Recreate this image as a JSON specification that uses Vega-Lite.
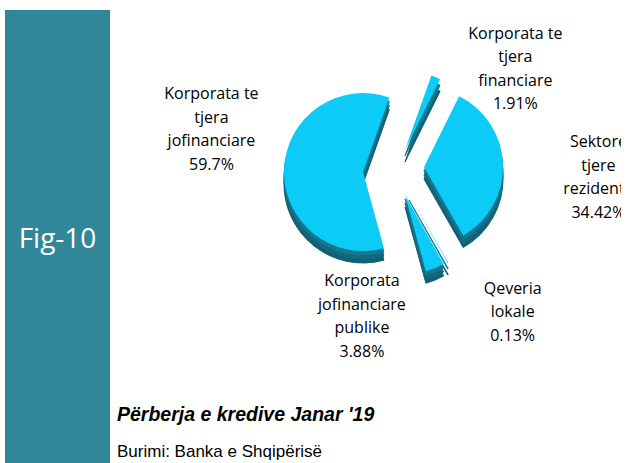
{
  "$schema": "https://vega.github.io/schema/vega-lite/v6.json",
  "padding": {"left": 5, "top": 10, "right": 0, "bottom": 0},
  "background": "white",
  "spacing": 7,
  "datasets": {
    "panel": [{"fig": "Fig-10"}],
    "slices": [
      {"name": "Korporata te tjera financiare", "label": "Korporata te\ntjera\nfinanciare\n1.91%", "value": 1.91, "rank": 1},
      {"name": "Sektore tjere rezidente", "label": "Sektore\ntjere\nrezidente\n34.42%", "value": 34.42, "rank": 2},
      {"name": "Qeveria lokale", "label": "Qeveria\nlokale\n0.13%", "value": 0.13, "rank": 3},
      {"name": "Korporata jofinanciare publike", "label": "Korporata\njofinanciare\npublike\n3.88%", "value": 3.88, "rank": 4},
      {"name": "Korporata te tjera jofinanciare", "label": "Korporata te\ntjera\njofinanciare\n59.7%", "value": 59.7, "rank": 5}
    ]
  },
  "hconcat": [
    {
      "width": 105,
      "height": 453,
      "view": {"fill": "#31879A", "stroke": null},
      "data": {"name": "panel"},
      "mark": {"type": "text", "font": "Open Sans", "fontSize": 28, "color": "white", "align": "center", "baseline": "middle", "dy": 3},
      "encoding": {"text": {"field": "fig", "type": "nominal"}}
    },
    {
      "width": 456,
      "height": 320,
      "view": {"stroke": null},
      "data": {"name": "slices"},
      "transform": [{"stack": "value", "groupby": [], "sort": [{"field": "rank", "order": "ascending"}], "as": ["v0", "v1"]}],
      "title": {
        "text": "Përberja e kredive Janar '19",
        "subtitle": "Burimi: Banka e Shqipërisë",
        "orient": "bottom",
        "anchor": "start",
        "frame": "group",
        "dx": -48,
        "offset": 46,
        "font": "Liberation Sans",
        "fontSize": 19.5,
        "fontWeight": "bold",
        "fontStyle": "italic",
        "color": "black",
        "subtitleFont": "Liberation Sans",
        "subtitleFontSize": 17,
        "subtitleColor": "black",
        "subtitlePadding": 19
      },
      "layer": [
        {"transform": [{"filter": "datum.rank == 5"}], "mark": {"type": "arc", "outerRadius": 79, "xOffset": -30, "yOffset": 14, "fill": "#0F5F76", "stroke": "#0F5F76", "strokeWidth": 1}, "encoding": {"theta": {"field": "v0", "type": "quantitative", "scale": {"domain": [0, 100.04], "range": [0.3403, 6.6235]}}, "theta2": {"field": "v1"}}},
        {"transform": [{"filter": "datum.rank == 5"}], "mark": {"type": "arc", "outerRadius": 79, "xOffset": -30, "yOffset": 10, "fill": "#12697F", "stroke": "#12697F", "strokeWidth": 1}, "encoding": {"theta": {"field": "v0", "type": "quantitative"}, "theta2": {"field": "v1"}}},
        {"transform": [{"filter": "datum.rank == 5"}], "mark": {"type": "arc", "outerRadius": 79, "xOffset": -30, "yOffset": 6, "fill": "#167790", "stroke": "#167790", "strokeWidth": 1}, "encoding": {"theta": {"field": "v0", "type": "quantitative"}, "theta2": {"field": "v1"}}},
        {"transform": [{"filter": "datum.rank == 1"}], "mark": {"type": "arc", "outerRadius": 79, "xOffset": 12, "yOffset": -8, "fill": "#0F5F76", "stroke": "#0F5F76", "strokeWidth": 1}, "encoding": {"theta": {"field": "v0", "type": "quantitative"}, "theta2": {"field": "v1"}}},
        {"transform": [{"filter": "datum.rank == 1"}], "mark": {"type": "arc", "outerRadius": 79, "xOffset": 12, "yOffset": -14, "fill": "#167790", "stroke": "#167790", "strokeWidth": 1}, "encoding": {"theta": {"field": "v0", "type": "quantitative"}, "theta2": {"field": "v1"}}},
        {"transform": [{"filter": "datum.rank == 2"}], "mark": {"type": "arc", "outerRadius": 79, "xOffset": 31, "yOffset": 9, "fill": "#0F5F76", "stroke": "#0F5F76", "strokeWidth": 1}, "encoding": {"theta": {"field": "v0", "type": "quantitative"}, "theta2": {"field": "v1"}}},
        {"transform": [{"filter": "datum.rank == 2"}], "mark": {"type": "arc", "outerRadius": 79, "xOffset": 31, "yOffset": 5, "fill": "#12697F", "stroke": "#12697F", "strokeWidth": 1}, "encoding": {"theta": {"field": "v0", "type": "quantitative"}, "theta2": {"field": "v1"}}},
        {"transform": [{"filter": "datum.rank == 2"}], "mark": {"type": "arc", "outerRadius": 79, "xOffset": 31, "yOffset": 1, "fill": "#167790", "stroke": "#167790", "strokeWidth": 1}, "encoding": {"theta": {"field": "v0", "type": "quantitative"}, "theta2": {"field": "v1"}}},
        {"transform": [{"filter": "datum.rank == 3"}], "mark": {"type": "arc", "outerRadius": 79, "xOffset": 16, "yOffset": 36, "fill": "#0F5F76", "stroke": "#0F5F76", "strokeWidth": 1}, "encoding": {"theta": {"field": "v0", "type": "quantitative"}, "theta2": {"field": "v1"}}},
        {"transform": [{"filter": "datum.rank == 3"}], "mark": {"type": "arc", "outerRadius": 79, "xOffset": 16, "yOffset": 30, "fill": "#167790", "stroke": "#167790", "strokeWidth": 1}, "encoding": {"theta": {"field": "v0", "type": "quantitative"}, "theta2": {"field": "v1"}}},
        {"transform": [{"filter": "datum.rank == 4"}], "mark": {"type": "arc", "outerRadius": 79, "xOffset": 12, "yOffset": 37, "fill": "#0F5F76", "stroke": "#0F5F76", "strokeWidth": 1}, "encoding": {"theta": {"field": "v0", "type": "quantitative"}, "theta2": {"field": "v1"}}},
        {"transform": [{"filter": "datum.rank == 4"}], "mark": {"type": "arc", "outerRadius": 79, "xOffset": 12, "yOffset": 33, "fill": "#12697F", "stroke": "#12697F", "strokeWidth": 1}, "encoding": {"theta": {"field": "v0", "type": "quantitative"}, "theta2": {"field": "v1"}}},
        {"transform": [{"filter": "datum.rank == 4"}], "mark": {"type": "arc", "outerRadius": 79, "xOffset": 12, "yOffset": 29, "fill": "#167790", "stroke": "#167790", "strokeWidth": 1}, "encoding": {"theta": {"field": "v0", "type": "quantitative"}, "theta2": {"field": "v1"}}},
        {"transform": [{"filter": "datum.rank == 5"}], "mark": {"type": "arc", "outerRadius": 79, "xOffset": -30, "yOffset": 2, "fill": "#0DCBF7"}, "encoding": {"theta": {"field": "v0", "type": "quantitative"}, "theta2": {"field": "v1"}}},
        {"transform": [{"filter": "datum.rank == 1"}], "mark": {"type": "arc", "outerRadius": 79, "xOffset": 12, "yOffset": -20, "fill": "#0DCBF7"}, "encoding": {"theta": {"field": "v0", "type": "quantitative"}, "theta2": {"field": "v1"}}},
        {"transform": [{"filter": "datum.rank == 2"}], "mark": {"type": "arc", "outerRadius": 79, "xOffset": 31, "yOffset": -3, "fill": "#0DCBF7"}, "encoding": {"theta": {"field": "v0", "type": "quantitative"}, "theta2": {"field": "v1"}}},
        {"transform": [{"filter": "datum.rank == 3"}], "mark": {"type": "arc", "outerRadius": 79, "xOffset": 16, "yOffset": 24, "fill": "#0DCBF7"}, "encoding": {"theta": {"field": "v0", "type": "quantitative"}, "theta2": {"field": "v1"}}},
        {"transform": [{"filter": "datum.rank == 4"}], "mark": {"type": "arc", "outerRadius": 79, "xOffset": 12, "yOffset": 25, "fill": "#0DCBF7"}, "encoding": {"theta": {"field": "v0", "type": "quantitative"}, "theta2": {"field": "v1"}}},
        {
          "transform": [{"filter": "datum.rank == 5"}],
          "mark": {"type": "text", "radius": 100, "dx": -208, "dy": -172, "lineBreak": "\n", "font": "Open Sans", "fontSize": 16, "lineHeight": 23.5, "align": "center", "baseline": "middle", "color": "black"},
          "encoding": {"theta": {"field": "v0", "type": "quantitative"}, "text": {"field": "label", "type": "nominal"}}
        },
        {
          "transform": [{"filter": "datum.rank == 1"}],
          "mark": {"type": "text", "radius": 100, "dx": 89, "dy": -42, "lineBreak": "\n", "font": "Open Sans", "fontSize": 16, "lineHeight": 23.5, "align": "center", "baseline": "middle", "color": "black"},
          "encoding": {"theta": {"field": "v0", "type": "quantitative"}, "text": {"field": "label", "type": "nominal"}}
        },
        {
          "transform": [{"filter": "datum.rank == 2"}],
          "mark": {"type": "text", "radius": 100, "dx": 161, "dy": 62, "lineBreak": "\n", "font": "Open Sans", "fontSize": 16, "lineHeight": 23.5, "align": "center", "baseline": "middle", "color": "black", "clip": true},
          "encoding": {"theta": {"field": "v0", "type": "quantitative"}, "text": {"field": "label", "type": "nominal"}}
        },
        {
          "transform": [{"filter": "datum.rank == 3"}],
          "mark": {"type": "text", "radius": 100, "dx": 70, "dy": 32, "lineBreak": "\n", "font": "Open Sans", "fontSize": 16, "lineHeight": 23.5, "align": "center", "baseline": "middle", "color": "black"},
          "encoding": {"theta": {"field": "v0", "type": "quantitative"}, "text": {"field": "label", "type": "nominal"}}
        },
        {
          "transform": [{"filter": "datum.rank == 4"}],
          "mark": {"type": "text", "radius": 100, "dx": -80, "dy": 24, "lineBreak": "\n", "font": "Open Sans", "fontSize": 16, "lineHeight": 23.5, "align": "center", "baseline": "middle", "color": "black"},
          "encoding": {"theta": {"field": "v0", "type": "quantitative"}, "text": {"field": "label", "type": "nominal"}}
        }
      ]
    }
  ]
}
